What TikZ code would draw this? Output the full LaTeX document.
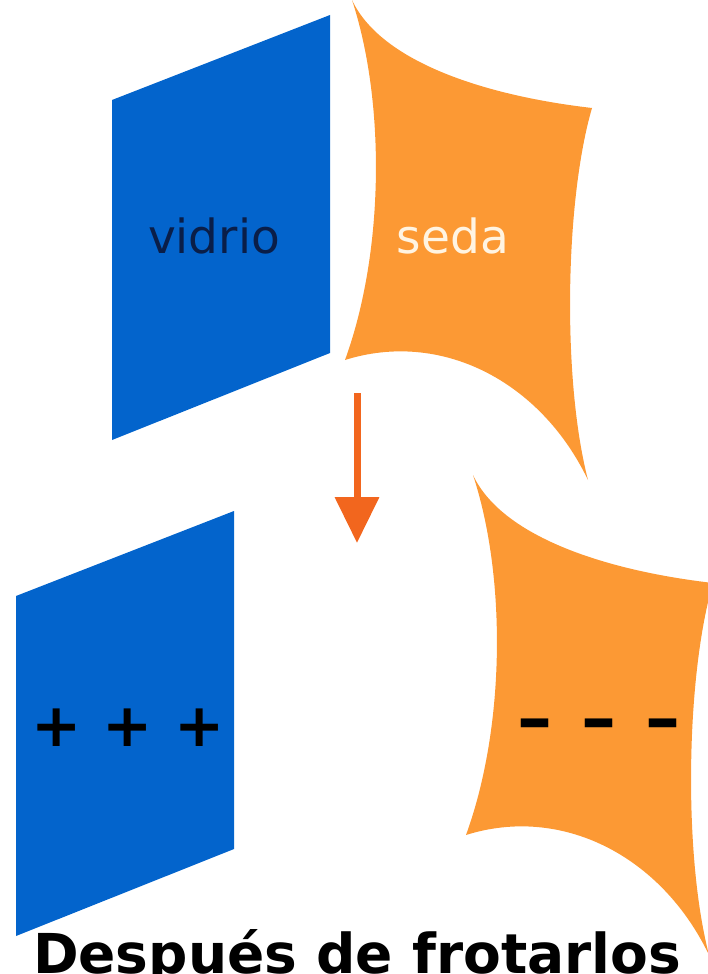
\documentclass[tikz,border=0pt]{standalone}
\usepackage{fontspec}
\setmainfont{DejaVu Sans}
\usepackage{tikz}
\usetikzlibrary{arrows.meta}
\definecolor{vidrioblue}{RGB}{3,100,204}
\definecolor{sedaorange}{RGB}{252,153,52}
\definecolor{arroworange}{RGB}{242,102,30}
\definecolor{navy}{RGB}{10,30,72}
\definecolor{cream}{RGB}{255,244,226}

\begin{document}
\begin{tikzpicture}
          [x=1pt,y=-1pt,
            every node/.style={inner sep=0pt,font=\fontsize{47}{56}\selectfont},
            vidrio/.style={fill=vidrioblue},
            seda/.style={fill=sedaorange},
            charge/.style={font=\bfseries\fontsize{60}{62}\selectfont,text=black},
            arrow/.style={draw=arroworange,line width=7pt,-{Triangle[width=43pt,length=46pt]}},
          ]
          \useasboundingbox (0,0) rectangle (707,974);

          % glass plates, before and after
          \foreach \dx/\dy in {112/100,16/596}
            \fill[vidrio] (\dx,\dy) -- ++(218,-85) -- ++(0,338) -- ++(-218,87) -- cycle;

          % silk cloths, the lower one shifted
          \foreach \dx/\dy in {0/0,121/475}
            \fill[seda,shift={(\dx,\dy)}] (352,0) .. controls (380,60) and (480,95) .. (592,108)
              .. controls (565,200) and (562,380) .. (588,480)
              .. controls (540,380) and (440,330) .. (345,360)
              .. controls (385,250) and (385,100) .. (352,0) -- cycle;

          \node[anchor=base,text=navy] (vidrio) at (214,253) {vidrio};
          \node[anchor=base,text=cream] (seda) at (453,253) {seda};

          \coordinate (from) at (357,393);
          \coordinate (to) at (357,543);
          \draw[arrow] (from) -- (to);

          \node[charge,anchor=base] (plus) at (128,746) {+ + +};
          \node[charge,anchor=base,font=\bfseries\fontsize{70}{72}\selectfont] (minus) at (599,742)
            {–\hspace{29pt}–\hspace{29pt}–};

          \node[anchor=base,font=\bfseries\fontsize{55}{60}\selectfont] (caption) at (357,973) {Después de frotarlos};
        \end{tikzpicture}
\end{document}
